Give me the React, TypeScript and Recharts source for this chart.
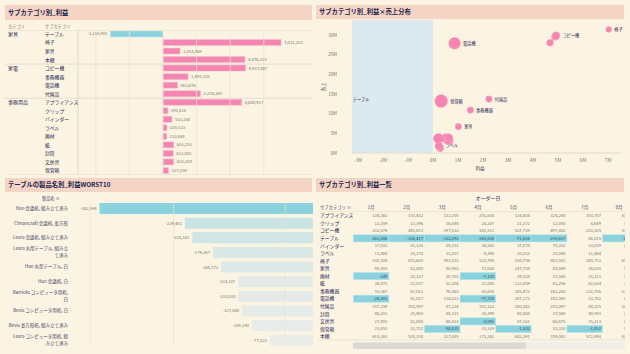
import React from 'react';
import {
  BarChart, Bar, XAxis, YAxis, Cell, LabelList, ReferenceLine,
  ReferenceArea, ScatterChart, Scatter, ZAxis,
} from 'recharts';

// ---- data ----
const subCategories = [
  'テーブル', '椅子', '家具', '本棚',
  'コピー機', '事務機器', '電話機', '付属品',
  'アプライアンス', 'クリップ', 'バインダー', 'ラベル', '画材', '紙', '封筒', '文房具', '保管箱',
];
const categoryOf = [
  '家具', '家具', '家具', '家具',
  '家電', '家電', '家電', '家電',
  '事務用品', '事務用品', '事務用品', '事務用品', '事務用品', '事務用品', '事務用品', '事務用品', '事務用品',
];
const subProfit = [
  -3130981, 7031103, 1014869, 4876215,
  4917467, 1493138, 862676, 2236363,
  4680917, 293618, 533168, 235523, 213648, 633253, 612083, 633208, 327359,
];
const subSales = [
  13700000, 31400000, 6700000, 29500000,
  29800000, 10900000, 27900000, 13700000,
  28000000, 1200000, 3700000, 1800000, 3700000, 3300000, 3000000, 3900000, 13200000,
];
const subQty = [
  3400, 2800, 3400, 3800,
  5000, 3400, 11300, 3400,
  3800, 3800, 7900, 5000, 7900, 6400, 3800, 5000, 13300,
];
const bubbleLabels = ['椅子', 'コピー機', '電話機', 'テーブル', '保管箱', '付属品', '事務機器', '家具', 'ラベル'];
const profitTicks = [-3000000, -2000000, -1000000, 0, 1000000, 2000000, 3000000, 4000000, 5000000, 6000000, 7000000];
const salesTicks = [0, 5000000, 10000000, 15000000, 20000000, 25000000, 30000000];
const barGridTicks = [-4000000, -2000000, 0, 2000000, 4000000, 6000000];

const worstNames = [
  'Hon 会議机, 組み立て済み', 'Chromcraft 会議机, 長方形', 'Lesro 会議机, 組み立て済み',
  'Lesro 丸型テーブル, 組み立て済み', 'Hon 丸型テーブル, 白', 'Hon 会議机, 白',
  'Barricks コンピュータ用机, 白', 'Bevis コンピュータ用机, 白', 'Bevis 長方形机, 組み立て済み',
  'Lesro コンピュータ用机, 組み立て済み',
];
const worstProfit = [-382594, -229481, -216181, -179267, -164772, -134187, -133808, -127040, -109190, -77323];
const worstGridTicks = [-400000, -250000, -50000];

const months = ['1月', '2月', '3月', '4月', '5月', '6月', '7月', '8月'];
const tableSubs = [
  'アプライアンス', 'クリップ', 'コピー機', 'テーブル', 'バインダー', 'ラベル', '椅子', '家具',
  '画材', '紙', '事務機器', '電話機', '付属品', '封筒', '文房具', '保管箱', '本棚',
];
const monthlyProfit = [
  [134361, 153432, 132305, 201630, 124404, 324244, 353707, 412265],
  [12359, 13196, 16844, 24207, 21372, 12058, 4649, 31204],
  [232874, 445672, 197533, 363511, 537739, 497482, 233305, 534782],
  [-161086, -126417, -332293, -365838, -71604, -255617, 86815, -84215],
  [37833, 31128, 29331, 34543, 37878, 78332, 33839, 28440],
  [13468, 14170, 11857, 9398, 30833, 25088, 11464, 9120],
  [530504, 873638, 391533, 523795, 530756, 803503, 380753, 612390],
  [90503, 42080, 80963, 73036, 147738, 88889, 26028, 54210],
  [-149, 28137, 30703, -7135, 29528, 15580, 35311, 12400],
  [36872, 31037, 32304, 21045, 112859, 41256, 42634, 30120],
  [55567, 67012, 76363, 63650, 285472, 163280, 121756, 231448],
  [-26303, 81017, 136823, -77728, 287173, 143365, 13702, 45300],
  [157259, 103597, 87224, 101122, 280843, 203097, 84325, 205731],
  [46201, 25480, 40315, 28299, 60868, 37580, 40593, 25310],
  [27403, 81088, 46833, -8092, 87331, 66673, 35213, 41870],
  [23853, 32722, -58828, 33329, -1302, 33330, -1852, 18420],
  [618263, 528158, 217885, 173263, 682391, 709042, 572898, 826104],
];

// ---- style ----
const BG = '#FCF4E3';
const HEAD = '#F4D4C4';
const NAVY = '#1E2552';
const INK = '#3A4063';
const MUTED = '#777268';
const GRID = '#ECE2CF';
const LINE = '#E0D6C4';
const PINK = '#F585B1';
const CYAN = '#8AD3DE';
const SHADE = '#DCE9EF';
const FONT = '"Noto Sans CJK JP", "Noto Sans", sans-serif';

const fmt = (v: number) => v.toLocaleString('en-US');

const profitRows = subCategories.map((s, i) => ({ sub: s, profit: subProfit[i] }));
const bubbleRows = subCategories.map((s, i) => ({ name: s, profit: subProfit[i], sales: subSales[i], qty: subQty[i] }));
const worstRows = worstNames.map((n, i) => ({ name: n, profit: worstProfit[i] }));

const P1_H = 145;
const P1_ROW = P1_H / subCategories.length;

function Header({ x, y, w, h, title }: { x: number; y: number; w: number; h: number; title: string }) {
  return (
    <div style={{
      position: 'absolute', left: x, top: y, width: w, height: h, background: HEAD,
      color: NAVY, fontWeight: 700, fontSize: 6.3, lineHeight: `${h}px`, paddingLeft: 3,
      boxSizing: 'border-box', whiteSpace: 'nowrap',
    }}>{title}</div>
  );
}

function SubCatTick(props: any) {
  const { y, payload } = props;
  const i = subCategories.indexOf(payload.value);
  const first = i === 0 || categoryOf[i] !== categoryOf[i - 1];
  const last = i === subCategories.length - 1;
  const half = P1_ROW / 2;
  return (
    <g>
      {first && <line x1={0} x2={307} y1={y - half} y2={y - half} stroke={LINE} strokeWidth={0.8} />}
      {last && <line x1={0} x2={307} y1={y + half} y2={y + half} stroke={LINE} strokeWidth={0.8} />}
      {first && <text x={3} y={y} dy="0.35em" fontSize={5} fill={NAVY}>{categoryOf[i]}</text>}
      <text x={40} y={y} dy="0.35em" fontSize={4.8} fill={NAVY}>{payload.value}</text>
    </g>
  );
}

const barValueLabel = (p: any) => {
  const x = Number(p.x), w = Number(p.width), y = Number(p.y), h = Number(p.height), v = Number(p.value);
  const right = Math.max(x, x + w), left = Math.min(x, x + w);
  return (
    <text x={v < 0 ? left - 3 : right + 3} y={y + h / 2} dy="0.35em" textAnchor={v < 0 ? 'end' : 'start'}
      fontSize={4.2} fill={MUTED}>{fmt(v)}</text>
  );
};

const bubbleShape = (p: any) => {
  const { cx, cy, payload } = p;
  const size = typeof p.size === 'number' ? p.size : payload.qty / 100;
  const r = Math.sqrt(size / Math.PI);
  const neg = payload.profit < 0;
  return (
    <g>
      <circle cx={cx} cy={cy} r={r} fill={neg ? SHADE : PINK} stroke={neg ? SHADE : '#F9B9D1'} strokeWidth={0.4} />
      {bubbleLabels.includes(payload.name) && (
        <text x={neg ? cx - 2 : cx + r + 2.5} y={cy} dy="0.35em" fontSize={4.2} fill={NAVY}>{payload.name}</text>
      )}
    </g>
  );
};

let measureCtx: CanvasRenderingContext2D | null = null;
function measure(s: string) {
  if (!measureCtx) measureCtx = document.createElement('canvas').getContext('2d');
  if (!measureCtx) return s.length * 4.5;
  measureCtx.font = `45px ${FONT}`;
  return measureCtx.measureText(s).width / 10;
}
function wrapText(s: string, max: number) {
  const lines: string[] = [];
  let cur = '';
  for (const ch of s) {
    if (cur && ch !== ' ' && measure(cur + ch) > max) {
      lines.push(cur.trimEnd());
      cur = ch;
    } else cur += ch;
  }
  if (cur) lines.push(cur);
  return lines;
}

function ProductTick(props: any) {
  const { y, payload } = props;
  const lines = wrapText(String(payload.value), 59.5);
  const lh = 6.7;
  const y0 = y - ((lines.length - 1) * lh) / 2;
  return (
    <g>
      {lines.map((l, k) => (
        <text key={k} x={63} y={y0 + k * lh} dy="0.35em" textAnchor="end" fontSize={4.5} fill={INK}>{l}</text>
      ))}
    </g>
  );
}

function worstColor(v: number) {
  const lo = Math.min(...worstProfit.map(Math.abs));
  const hi = Math.max(...worstProfit.map(Math.abs));
  const t = Math.pow((Math.abs(v) - lo) / (hi - lo), 1.6);
  const a = [234, 236, 233], b = [138, 211, 222];
  const c = a.map((av, k) => Math.round(av + (b[k] - av) * t));
  return `rgb(${c[0]},${c[1]},${c[2]})`;
}

const worstValueLabel = (p: any) => {
  const x = Number(p.x), w = Number(p.width), y = Number(p.y), h = Number(p.height), v = Number(p.value);
  const left = Math.min(x, x + w);
  return (
    <text x={left - 3} y={y + h / 2} dy="0.35em" textAnchor="end" fontSize={4.2} fill={MUTED}>{fmt(v)}</text>
  );
};

function ProfitTable() {
  // absolute page coords, drawn in an svg starting at (316, 193); the 8月 column is clipped like the source view
  const ox = 316, oy = 193;
  const colW = 35.6, col0 = 353.3;
  const rowY0 = 215.7, rowH = 7.55;
  return (
    <svg width={309} height={161} style={{ position: 'absolute', left: ox, top: oy, overflow: 'hidden' }}>
      <defs>
        <clipPath id="tblclip"><rect x={ox} y={oy} width={309} height={161} /></clipPath>
      </defs>
      <g transform={`translate(${-ox},${-oy})`} clipPath="url(#tblclip)">
        <text x={488} y={198.3} dy="0.35em" textAnchor="middle" fontSize={5} fill={INK}>オーダー日</text>
        <text x={320} y={207.7} dy="0.35em" fontSize={4.3} fill={INK}>サブカテゴリ ≡</text>
        {months.map((m, j) => (
          <text key={m} x={Math.min(col0 + colW * j + colW / 2, 619)} y={207.7} dy="0.35em" textAnchor="middle" fontSize={4.5} fill={INK}>{m}</text>
        ))}
        <line x1={318} x2={625} y1={211.6} y2={211.6} stroke={LINE} strokeWidth={0.6} />
        {tableSubs.map((s, i) => {
          const cy = rowY0 + rowH * i;
          return (
            <g key={s}>
              {monthlyProfit[i].map((v, j) => v < 0 ? (
                <rect key={j} x={col0 + colW * j} y={cy - rowH / 2 + 0.2} width={colW} height={rowH - 0.4}
                  fill={CYAN} stroke="#B5E3EA" strokeWidth={0.5} />
              ) : null)}
              <text x={320} y={cy} dy="0.35em" fontSize={4.8} fill={NAVY}>{s}</text>
              {monthlyProfit[i].map((v, j) => (
                <text key={j} x={col0 + colW * (j + 1) - 1.5} y={cy} dy="0.35em" textAnchor="end" fontSize={4.2}
                  fill={v < 0 ? '#2F4B63' : MUTED}>{fmt(v)}</text>
              ))}
            </g>
          );
        })}
        <line x1={318} x2={625} y1={339.8} y2={339.8} stroke={LINE} strokeWidth={0.6} />
        <rect x={353} y={342.5} width={272} height={6.5} fill="#F0ECE6" />
        <rect x={353} y={342.5} width={173} height={6.5} fill="#DCD9D4" />
      </g>
    </svg>
  );
}

export default function App() {
  return (
    <div style={{
      position: 'fixed', left: 0, top: 0, width: 630, height: 354, background: BG,
      overflow: 'hidden', fontFamily: FONT,
    }}>
      <Header x={5} y={5} w={307} h={15} title="サブカテゴリ別_利益" />
      <Header x={316} y={5} w={308} h={14} title="サブカテゴリ別_利益×売上分布" />
      <Header x={5} y={178} w={307} h={14} title="テーブルの製品名別_利益WORST10" />
      <Header x={316} y={178} w={308} h={14} title="サブカテゴリ別_利益一覧" />

      {/* panel 1 */}
      <div style={{ position: 'absolute', left: 5, top: 29.5 }}>
        <BarChart width={307} height={P1_H} data={profitRows} layout="vertical"
          margin={{ top: 0, right: 0, bottom: 0, left: 0 }}>
          <XAxis type="number" hide domain={[-5060000, 8870000]} />
          <YAxis type="category" dataKey="sub" width={73} interval={0} tickLine={false}
            axisLine={{ stroke: LINE }} tick={<SubCatTick />} />
          {barGridTicks.map((t) => (
            <ReferenceLine key={t} x={t} stroke={GRID} strokeWidth={0.8} />
          ))}
          <Bar dataKey="profit" barSize={6} isAnimationActive={false}>
            {profitRows.map((r) => (
              <Cell key={r.sub} fill={r.profit < 0 ? CYAN : PINK} stroke={r.profit < 0 ? '#B8E5EC' : '#F9BCD3'} strokeWidth={0.5} />
            ))}
            <LabelList dataKey="profit" content={barValueLabel} />
          </Bar>
        </BarChart>
      </div>

      {/* panel 2 */}
      <div style={{ position: 'absolute', left: 316, top: 20 }}>
        <ScatterChart width={308} height={155} margin={{ top: 0, right: 3, bottom: 0, left: 0 }}>
          <XAxis type="number" dataKey="profit" domain={[-3240000, 7520000]} ticks={profitTicks}
            tickFormatter={(v: number) => `${Math.round(v / 1e6)}M`} height={22} tickLine={false}
            tickMargin={0} axisLine={{ stroke: '#E3DACA' }} tick={{ fontSize: 4.6, fill: MUTED }} />
          <YAxis type="number" dataKey="sales" domain={[0, 33800000]} ticks={salesTicks}
            tickFormatter={(v: number) => `${Math.round(v / 1e6)}M`} width={36} tickLine={false}
            tickMargin={9} axisLine={false} tick={{ fontSize: 4.6, fill: MUTED }} />
          <ZAxis type="number" dataKey="qty" domain={[0, 14000]} range={[0, 140]} />
          <ReferenceArea x1={-3240000} x2={0} y1={0} y2={33800000} fill={SHADE} fillOpacity={1} stroke="none" />
          <Scatter data={bubbleRows} shape={bubbleShape} isAnimationActive={false} />
        </ScatterChart>
      </div>

      {/* panel 3 */}
      <div style={{ position: 'absolute', left: 5, top: 200.8 }}>
        <BarChart width={308} height={146.4} data={worstRows} layout="vertical"
          margin={{ top: 0, right: 0, bottom: 0, left: 0 }}>
          <XAxis type="number" hide domain={[-432000, 0]} />
          <YAxis type="category" dataKey="name" width={67} interval={0} tickLine={false}
            axisLine={false} tick={<ProductTick />} />
          {worstGridTicks.map((t) => (
            <ReferenceLine key={t} x={t} stroke={GRID} strokeWidth={0.7} />
          ))}
          <Bar dataKey="profit" barSize={11} isAnimationActive={false}>
            {worstRows.map((r) => (
              <Cell key={r.name} fill={worstColor(r.profit)} />
            ))}
            <LabelList dataKey="profit" content={worstValueLabel} />
          </Bar>
        </BarChart>
      </div>

      {/* panel 4 */}
      <ProfitTable />

      {/* loose texts */}
      <svg width={630} height={354} style={{ position: 'absolute', left: 0, top: 0, pointerEvents: 'none' }}>
        <text x={8} y={26.8} dy="0.35em" fontSize={4.2} fill={MUTED}>カテゴリ</text>
        <text x={45} y={26.8} dy="0.35em" fontSize={4.2} fill={MUTED}>サブカテゴリ</text>
        <text x={480} y={168.5} dy="0.35em" textAnchor="middle" fontSize={4.6} fill={INK}>利益</text>
        <text x={323} y={87} dy="0.35em" textAnchor="middle" fontSize={4.6} fill={INK}
          transform="rotate(-90 323 87)">売上</text>
        <text x={42} y={199} dy="0.35em" fontSize={4.2} fill={INK}>製品名 ≡</text>
      </svg>
    </div>
  );
}
